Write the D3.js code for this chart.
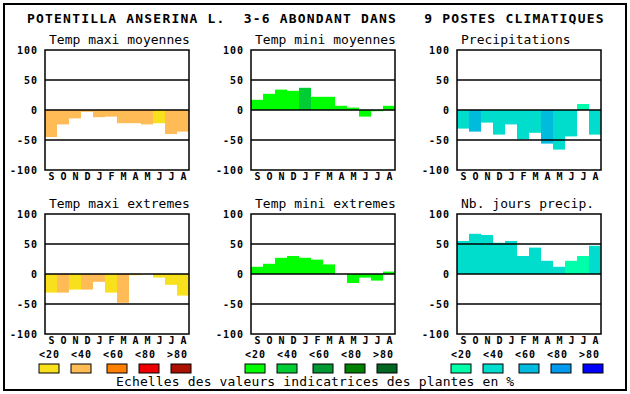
<!DOCTYPE html>
<html>
<head>
<meta charset="utf-8">
<script src="https://cdn.jsdelivr.net/npm/d3@7"></script>
<style>
  body { margin: 0; background: #fff; }
  text { font-family: "DejaVu Sans Mono", monospace; fill: #000; }
</style>
</head>
<body>
<div id="chart"></div>
<script>
// months and tick labels
var months = ["S", "O", "N", "D", "J", "F", "M", "A", "M", "J", "J", "A"];
var ticks = [100, 50, 0, -50, -100];
var gridValues = [50, 0, -50];
var legendLabels = ["<20", "<40", "<60", "<80", ">80"];

// colour scales for the three columns
var warmColors = ["#f8e11c", "#ffbb55", "#ff8000", "#ee0000", "#aa1100"];
var greenColors = ["#00ff00", "#00cc33", "#009933", "#008000", "#006622"];
var blueColors = ["#00ffaa", "#00ddcc", "#00bbdd", "#0099ee", "#0000ff"];

// panel titles
var titles = ["Temp maxi moyennes", "Temp mini moyennes", "Precipitations",
              "Temp maxi extremes", "Temp mini extremes", "Nb. jours precip."];

// values (S..A) and colour class of each bar
var tmaxMoy = [-45, -24, -14, -3, -12, -11, -22, -22, -24, -22, -40, -36];
var tmaxMoyCls = [1, 1, 1, 1, 1, 1, 1, 1, 1, 0, 1, 1];
var tminMoy = [17, 27, 34, 32, 37, 22, 22, 7, 4, -11, -2, 7];
var tminMoyCls = [0, 0, 0, 0, 1, 0, 0, 0, 0, 0, 0, 0];
var precip = [-31, -36, -21, -41, -24, -49, -38, -56, -66, -44, 10, -41];
var precipCls = [1, 2, 1, 1, 1, 1, 1, 2, 1, 1, 0, 1];
var tmaxExt = [-31, -31, -26, -26, -13, -31, -48, -2, 0, -6, -18, -36];
var tmaxExtCls = [0, 1, 0, 1, 1, 0, 1, 0, 0, 0, 0, 0];
var tminExt = [12, 17, 27, 30, 27, 24, 16, 0, -15, -6, -11, 4];
var tminExtCls = [0, 0, 0, 0, 0, 0, 0, 0, 0, 0, 0, 0];
var joursPrecip = [55, 67, 65, 52, 55, 30, 44, 22, 12, 22, 30, 47];
var joursPrecipCls = [1, 1, 1, 1, 1, 1, 1, 1, 1, 0, 0, 1];

var panels = [
  {title: titles[0], values: tmaxMoy, cls: tmaxMoyCls, colors: warmColors, col: 0, row: 0},
  {title: titles[1], values: tminMoy, cls: tminMoyCls, colors: greenColors, col: 1, row: 0},
  {title: titles[2], values: precip, cls: precipCls, colors: blueColors, col: 2, row: 0},
  {title: titles[3], values: tmaxExt, cls: tmaxExtCls, colors: warmColors, col: 0, row: 1},
  {title: titles[4], values: tminExt, cls: tminExtCls, colors: greenColors, col: 1, row: 1},
  {title: titles[5], values: joursPrecip, cls: joursPrecipCls, colors: blueColors, col: 2, row: 1}
];
var columnColors = [warmColors, greenColors, blueColors];

var width = 630, height = 394;
var plotW = 144, plotH = 120;
var colLeft = [45, 251, 457];
var rowTop = [50, 214];

var svg = d3.select("#chart")
  .append("svg")
    .attr("width", width)
    .attr("height", height);

// outer frame
svg.append("rect")
    .attr("x", 4).attr("y", 4)
    .attr("width", 622).attr("height", 386)
    .attr("fill", "none")
    .attr("stroke", "#000")
    .attr("stroke-width", 2);

// main title
svg.append("text")
    .attr("x", 27)
    .attr("y", 23)
    .attr("xml:space", "preserve")
    .style("font-size", "13px")
    .style("font-weight", "bold")
    .style("letter-spacing", "1.2px")
    .style("white-space", "pre")
    .text("POTENTILLA ANSERINA L.  3-6 ABONDANT DANS   9 POSTES CLIMATIQUES");

var x = d3.scaleBand().domain(d3.range(12)).range([0, plotW]).paddingInner(0);

panels.forEach(function(p) {
  var left = colLeft[p.col], top = rowTop[p.row];
  var y = d3.scaleLinear().domain([-100, 100]).range([plotH, 0]);

  var g = svg.append("g")
      .attr("transform", "translate(" + left + "," + top + ")");

  g.append("text")
      .attr("x", 4)
      .attr("y", -6)
      .style("font-size", "13px")
      .text(p.title);

  // bars
  g.selectAll(".bar")
    .data(p.values)
    .enter()
    .append("rect")
      .attr("class", "bar")
      .attr("x", (d, i) => x(i))
      .attr("width", x.bandwidth())
      .attr("y", d => Math.min(y(d), y(0)))
      .attr("height", d => Math.abs(y(d) - y(0)))
      .attr("fill", (d, i) => p.colors[p.cls[i]]);

  // horizontal lines
  g.selectAll(".grid")
    .data(gridValues)
    .enter()
    .append("line")
      .attr("x1", 0).attr("x2", plotW)
      .attr("y1", d => y(d)).attr("y2", d => y(d))
      .attr("stroke", "#000")
      .attr("stroke-width", 1.5);

  g.append("rect")
      .attr("width", plotW).attr("height", plotH)
      .attr("fill", "none")
      .attr("stroke", "#000")
      .attr("stroke-width", 1.5);

  // y tick labels
  g.selectAll(".tick")
    .data(ticks)
    .enter()
    .append("text")
      .attr("x", -7)
      .attr("y", d => y(d) + 3.5)
      .attr("text-anchor", "end")
      .style("font-size", "10px")
      .style("font-weight", "bold")
      .style("letter-spacing", "1px")
      .text(d => d);

  // month labels
  g.selectAll(".month")
    .data(months)
    .enter()
    .append("text")
      .attr("x", (d, i) => x(i) + x.bandwidth() / 2 + 0.5)
      .attr("y", plotH + 10)
      .attr("text-anchor", "middle")
      .style("font-size", "10px")
      .style("font-weight", "bold")
      .text(d => d);
});

// legends under each column
var swatchX = [-6, 26, 62, 94, 126];
columnColors.forEach(function(colors, c) {
  var left = colLeft[c];
  var lg = svg.append("g");
  lg.selectAll(".lab")
    .data(legendLabels)
    .enter()
    .append("text")
      .attr("x", (d, i) => left - 6 + 32 * i)
      .attr("y", 357.5)
      .style("font-size", "10px")
      .style("font-weight", "bold")
      .style("letter-spacing", "1px")
      .text(d => d);
  lg.selectAll(".sw")
    .data(colors)
    .enter()
    .append("rect")
      .attr("x", (d, i) => left + swatchX[i])
      .attr("y", 364)
      .attr("width", 20)
      .attr("height", 9)
      .attr("fill", d => d)
      .attr("stroke", "#000")
      .attr("stroke-width", 1);
});

svg.append("text")
    .attr("x", 116)
    .attr("y", 386)
    .style("font-size", "13px")
    .style("letter-spacing", "0.14px")
    .text("Echelles des valeurs indicatrices des plantes en %");
</script>
</body>
</html>
